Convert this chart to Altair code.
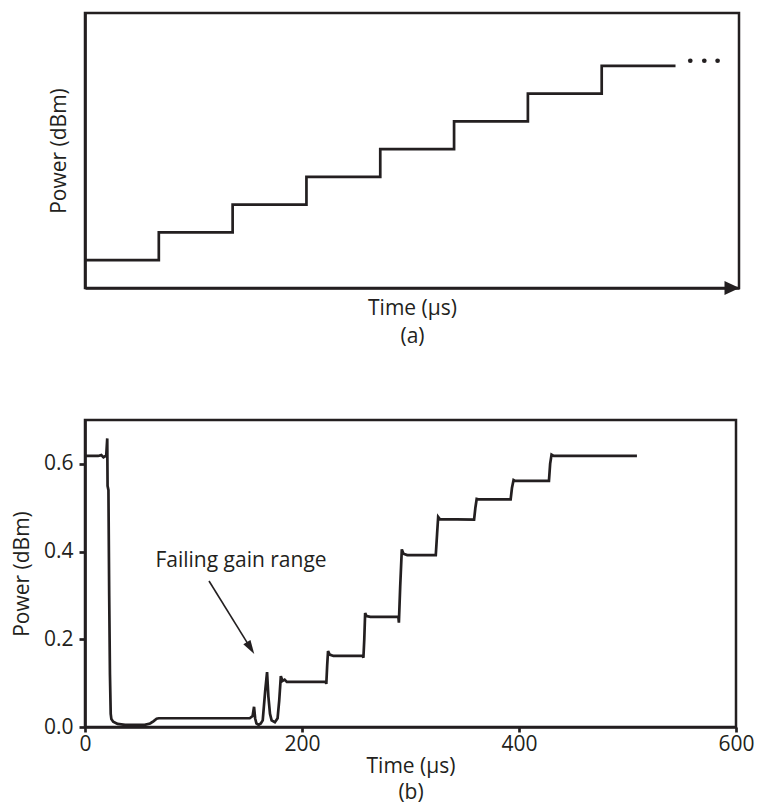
import altair as alt
import pandas as pd

INK = "#231f20"
FONT = "Open Sans"

# ---------------- panel (a): schematic staircase ----------------
a_time = [0, 1, 2, 3, 4, 5, 6, 7, 8]
a_level = [1, 2, 3, 4, 5, 6, 7, 8, 8]
a_dot_time = [8.2, 8.39, 8.57]
a_dot_level = [8.18, 8.18, 8.18]
a_x_max = 8.86
a_y_max = 9.9
a_arrow_time = [8.765]
a_arrow_level = [0.0]

# ---------------- panel (b): measured power vs time ----------------
b_time = [0, 12, 15, 17, 19, 19.6, 20.5, 20.8, 21.6, 22.3, 23.0, 23.7, 24.3, 26, 30, 37, 55, 60, 63, 66, 68,
          151.8, 154.5, 155.8, 156.8, 158, 160, 162, 163.8, 166, 167.8, 169, 170.5, 172, 175, 177.5, 179, 180.5,
          182, 184, 186,
          221.9, 222.4, 223.2, 224, 225.5, 229,
          256, 256.6, 257.4, 258.2, 259.5, 263,
          288.8, 289.3, 290.5, 292, 293.5, 297,
          323.3, 324.5, 325.5, 327,
          358.6, 359.8, 361, 362.5,
          392.3, 393.5, 395, 396.5,
          427.6, 428.7, 430, 432, 508.7]
b_power = [0.618, 0.618, 0.62, 0.615, 0.618, 0.62, 0.658, 0.55, 0.54, 0.3, 0.12, 0.03, 0.018, 0.012, 0.007, 0.005,
           0.005, 0.008, 0.013, 0.019, 0.02,
           0.02, 0.025, 0.046, 0.02, 0.008, 0.005, 0.008, 0.015, 0.08, 0.125, 0.07, 0.03, 0.015, 0.011, 0.02, 0.06,
           0.116, 0.105, 0.108, 0.103,
           0.103, 0.098, 0.14, 0.173, 0.165, 0.162,
           0.162, 0.158, 0.2, 0.26, 0.253, 0.251,
           0.251, 0.238, 0.32, 0.405, 0.395, 0.392,
           0.392, 0.44, 0.479, 0.474,
           0.473, 0.5, 0.52, 0.519,
           0.519, 0.545, 0.563, 0.561,
           0.561, 0.6, 0.621, 0.618, 0.618]
b_x_ticks = [0, 200, 400, 600]
b_y_ticks = [0.0, 0.2, 0.4, 0.6]

annot_text = ["Failing gain range"]
annot_time = [143.8]
annot_power = [0.365]
arrow_from_time = [114.3]
arrow_from_power = [0.333]
arrow_head_time = [152.6]
arrow_head_power = [0.180]
arrow_head_angle = 148.2

# ---------------- panel (a) chart ----------------
df_a = pd.DataFrame({"t": a_time, "v": a_level})
df_dots = pd.DataFrame({"t": a_dot_time, "v": a_dot_level})
df_arr_a = pd.DataFrame({"t": a_arrow_time, "v": a_arrow_level})

xa = alt.X("t:Q", scale=alt.Scale(domain=[0, a_x_max], nice=False, zero=False),
           axis=alt.Axis(title=["Time (μs)", "(a)"], labels=False, ticks=False, grid=False,
                         titlePadding=9, titleLineHeight=28))
ya = alt.Y("v:Q", scale=alt.Scale(domain=[0, a_y_max], nice=False),
           axis=alt.Axis(title="Power (dBm)", labels=False, ticks=False, grid=False, titlePadding=16))

stairs = alt.Chart(df_a).mark_line(interpolate="step-after", color=INK, strokeWidth=2.7).encode(x=xa, y=ya)
dots = alt.Chart(df_dots).mark_circle(size=22, color=INK, opacity=1).encode(x="t:Q", y="v:Q")
arrow_a = alt.Chart(df_arr_a).mark_point(
    shape="M1,0L-1,-0.93L-1,0.93Z", filled=True, size=225, color=INK, opacity=1
).encode(x="t:Q", y="v:Q")

top = alt.layer(stairs, dots, arrow_a).properties(width=654, height=275)

# ---------------- panel (b) chart ----------------
df_b = pd.DataFrame({"t": b_time, "p": b_power})
df_txt = pd.DataFrame({"t": annot_time, "p": annot_power, "label": annot_text})
df_rule = pd.DataFrame({"t": arrow_from_time, "p": arrow_from_power,
                        "t2": arrow_head_time, "p2": arrow_head_power})
df_head = pd.DataFrame({"t": arrow_head_time, "p": arrow_head_power})

xb = alt.X("t:Q", scale=alt.Scale(domain=[0, 600], nice=False),
           axis=alt.Axis(values=b_x_ticks, title=["Time (μs)", "(b)"], tickSize=5, labelPadding=1,
                         grid=False, titlePadding=1, titleLineHeight=26, labelFlush=False))
yb = alt.Y("p:Q", scale=alt.Scale(domain=[0, 0.7], nice=False),
           axis=alt.Axis(values=b_y_ticks, format=".1f", title="Power (dBm)", tickSize=6, labelPadding=6,
                         grid=False, titlePadding=11, labelFlush=False))

trace = alt.Chart(df_b).mark_line(color=INK, strokeWidth=2.7).encode(x=xb, y=yb)
note = alt.Chart(df_txt).mark_text(font=FONT, fontSize=21, color=INK, align="center",
                                   baseline="alphabetic").encode(x="t:Q", y="p:Q", text="label:N")
rule = alt.Chart(df_rule).mark_rule(color=INK, strokeWidth=1.6).encode(
    x="t:Q", y="p:Q", x2="t2:Q", y2="p2:Q")
head = alt.Chart(df_head).mark_point(
    shape="M0,-1L0.6,1L-0.6,1Z", filled=True, size=196, color=INK, opacity=1, angle=arrow_head_angle
).encode(x="t:Q", y="p:Q")

bottom = alt.layer(trace, rule, head, note).properties(width=651, height=307)

chart = alt.vconcat(top, bottom, spacing=70).properties(
    padding={"left": 2, "top": 3, "right": 0, "bottom": 0}
).configure_axis(
    domainColor=INK, domainWidth=2.7, tickColor=INK, tickWidth=2.7,
    labelFont=FONT, labelFontSize=21, labelColor=INK,
    titleFont=FONT, titleFontSize=21, titleFontWeight="normal", titleColor=INK
).configure_view(stroke=INK, strokeWidth=2.5)

chart.save("out.html", embed_options={"renderer": "svg", "actions": False})
